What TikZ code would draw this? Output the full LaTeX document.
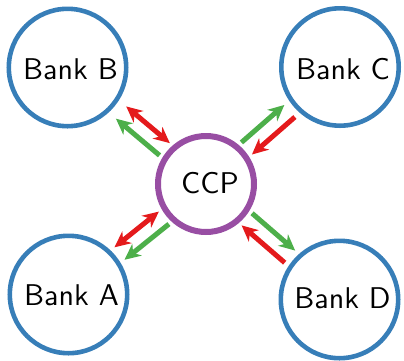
\documentclass[tikz,border=0pt]{standalone}
\usepackage{fontspec}
\newfontfamily\lmsten{lmsans10-regular}[Extension=.otf]
\usetikzlibrary{calc,arrows.meta}
\definecolor{cblue}{HTML}{377EB8}
\definecolor{cpurple}{HTML}{984EA3}
\definecolor{cred}{HTML}{E41A1C}
\definecolor{cgreen}{HTML}{4DAF4A}
\begin{document}
\begin{tikzpicture}[x=1pt,y=-1pt,
  bank/.style={circle,draw=cblue,line width=4.6pt,minimum size=117.4pt,inner sep=0pt},
  hub/.style={circle,draw=cpurple,line width=6pt,minimum size=96pt,inner sep=0pt},
  txt/.style={font=\lmsten\fontsize{30}{36}\selectfont,inner sep=0pt},
  tipx/.tip={Stealth[length=16pt,width=15pt,inset=5pt]},
  flowone/.style={line width=5pt,-tipx},
  flowtwo/.style={line width=5pt,tipx-tipx}]
\useasboundingbox (0,0) rectangle (404,360);
\node[hub,label={[txt,xshift=4pt,yshift=1pt]center:CCP}] (ccp) at (206,184) {};
\node[bank,label={[txt,xshift=3pt,yshift=-2pt]center:Bank B}] (B) at (67.5,67.5) {};
\node[bank,label={[txt,xshift=3pt,yshift=-2pt]center:Bank C}] (C) at (340,67) {};
\node[bank,label={[txt,xshift=3pt,yshift=-1pt]center:Bank A}] (A) at (68.5,294.5) {};
\node[bank,label={[txt,xshift=3pt,yshift=1pt]center:Bank D}] (D) at (339.5,299.5) {};
% Bank B
\draw[flowone,cgreen] ($(ccp)!54pt!(B)!8pt!90:(B)$) -- ($(ccp)!111pt!(B)!8pt!90:(B)$);
\draw[flowtwo,cred] ($(ccp)!54pt!(B)!8pt!-90:(B)$) -- ($(ccp)!111pt!(B)!8pt!-90:(B)$);
% Bank C
\draw[flowone,cgreen] ($(ccp)!54pt!(C)!8pt!90:(C)$) -- ($(ccp)!111pt!(C)!8pt!90:(C)$);
\draw[flowone,cred] ($(ccp)!111pt!(C)!8pt!90:(ccp)$) -- ($(ccp)!54pt!(C)!8pt!-90:(C)$);
% Bank D
\draw[flowone,cgreen] ($(ccp)!54pt!(D)!8pt!90:(D)$) -- ($(ccp)!111pt!(D)!8pt!90:(D)$);
\draw[flowone,cred] ($(ccp)!111pt!(D)!8pt!90:(ccp)$) -- ($(ccp)!54pt!(D)!8pt!-90:(D)$);
% Bank A
\draw[flowone,cgreen] ($(ccp)!54pt!(A)!8pt!90:(A)$) -- ($(ccp)!111pt!(A)!8pt!90:(A)$);
\draw[flowtwo,cred] ($(ccp)!54pt!(A)!8pt!-90:(A)$) -- ($(ccp)!111pt!(A)!8pt!-90:(A)$);
\end{tikzpicture}
\end{document}
